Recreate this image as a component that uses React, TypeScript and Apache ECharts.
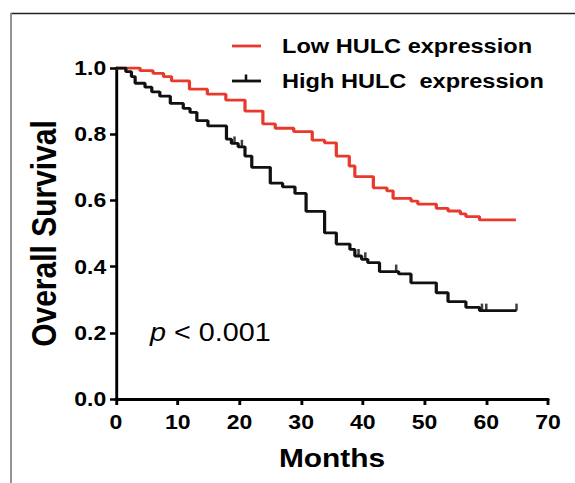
import React, { useEffect, useRef } from "react";
import * as echarts from "echarts";

// Kaplan–Meier steps: [month, survival after the drop]
const lowMonths = [0, 3.9, 6.0, 7.7, 9.0, 11.9, 14.8, 17.8, 20.9, 23.8, 25.8, 28.8, 31.8, 33.8, 35.7, 37.8, 38.7, 41.7, 43.9, 44.9, 47.8, 48.9, 51.9, 53.8, 55.8, 56.7, 58.9, 64.8];
const lowSurvival = [1.0, 0.992, 0.984, 0.974, 0.961, 0.936, 0.921, 0.903, 0.87, 0.831, 0.818, 0.808, 0.782, 0.774, 0.734, 0.704, 0.672, 0.638, 0.629, 0.606, 0.598, 0.589, 0.576, 0.568, 0.559, 0.551, 0.541, 0.541];

const highMonths = [0, 1.6, 2.5, 3.1, 4.7, 5.8, 7.1, 8.8, 10.9, 12.0, 13.1, 14.9, 17.9, 18.7, 19.8, 20.9, 22.0, 25.0, 27.0, 29.0, 30.8, 33.8, 35.7, 37.9, 38.7, 39.8, 40.8, 42.7, 45.8, 47.8, 51.9, 53.8, 56.7, 58.9, 64.9];
const highSurvival = [1.0, 0.989, 0.974, 0.954, 0.942, 0.928, 0.915, 0.893, 0.878, 0.866, 0.841, 0.825, 0.785, 0.772, 0.762, 0.734, 0.7, 0.652, 0.641, 0.621, 0.567, 0.502, 0.468, 0.452, 0.432, 0.422, 0.412, 0.385, 0.378, 0.351, 0.321, 0.294, 0.277, 0.267, 0.267];

const censorMonths = [19.2, 20.4, 39.3, 40.4, 45.4, 59.3, 60.0, 64.9];
const censorSurvival = [0.772, 0.762, 0.432, 0.422, 0.385, 0.267, 0.267, 0.267];

const xTicks = [0, 10, 20, 30, 40, 50, 60, 70];
const yTicks = [0, 0.2, 0.4, 0.6, 0.8, 1.0];

const seriesNames = ["Low HULC expression", "High HULC  expression"];

const K = 1.15; // horizontal stretch of the original figure
const W = 575 / K;
const H = 483;
const FONT = "'Liberation Sans', Arial, Helvetica, sans-serif";
const RED = "#e8392c";
const BLACK = "#111111";

export default function App() {
  const ref = useRef<HTMLDivElement>(null);

  useEffect(() => {
    if (!ref.current) return;
    const chart = echarts.init(ref.current, undefined, { renderer: "svg" });
    const lowData = lowMonths.map((m, i) => [m, lowSurvival[i]]);
    const highData = highMonths.map((m, i) => [m, highSurvival[i]]);
    const censorData = censorMonths.map((m, i) => [m, censorSurvival[i]]);

    const sx = (x: number) => x / K;

    chart.setOption({
      animation: false,
      backgroundColor: "#ffffff",
      grid: { left: sx(116), right: W - sx(548), top: 68, bottom: 84, containLabel: false },
      xAxis: {
        type: "value",
        min: xTicks[0],
        max: xTicks[xTicks.length - 1],
        interval: 10,
        name: "Months",
        nameLocation: "middle",
        nameGap: 46,
        nameTextStyle: { fontFamily: FONT, fontWeight: "bold", fontSize: 26, color: "#000" },
        axisLine: { show: true, onZero: false, lineStyle: { color: "#000", width: 2.8 } },
        axisTick: { show: true, length: 6, lineStyle: { color: "#000", width: 2.5 } },
        axisLabel: { margin: 13, fontFamily: FONT, fontWeight: "bold", fontSize: 20, color: "#000" },
        splitLine: { show: false },
      },
      yAxis: {
        type: "value",
        min: yTicks[0],
        max: yTicks[yTicks.length - 1],
        interval: 0.2,
        name: "Overall Survival",
        nameLocation: "middle",
        nameGap: 47,
        nameTextStyle: { fontFamily: FONT, fontWeight: "bold", fontSize: 30, color: "#000" },
        axisLine: { show: true, onZero: false, lineStyle: { color: "#000", width: 2.5 } },
        axisTick: { show: true, length: 5.2, lineStyle: { color: "#000", width: 2.5 } },
        axisLabel: {
          margin: 8.5,
          fontFamily: FONT,
          fontWeight: "bold",
          fontSize: 20,
          color: "#000",
          formatter: (v: number) => v.toFixed(1),
        },
        splitLine: { show: false },
      },
      series: [
        {
          name: seriesNames[0],
          type: "line",
          step: "end",
          data: lowData,
          showSymbol: false,
          symbol: "none",
          lineStyle: { color: RED, width: 2.8 },
          z: 3,
        },
        {
          name: seriesNames[1],
          type: "line",
          step: "end",
          data: highData,
          showSymbol: false,
          symbol: "none",
          lineStyle: { color: BLACK, width: 2.8 },
          z: 4,
        },
        {
          name: "censored",
          type: "scatter",
          data: censorData,
          symbol: "rect",
          symbolSize: [2.2, 7],
          symbolOffset: [0, -3.5],
          itemStyle: { color: BLACK },
          z: 5,
        },
      ],
      graphic: [
        // frame of the original figure
        { type: "line", shape: { x1: sx(11), y1: 13.5, x2: W + 5, y2: 13.5 }, style: { stroke: "#222", lineWidth: 1.6 } },
        { type: "line", shape: { x1: sx(11), y1: 13, x2: sx(11), y2: H + 5 }, style: { stroke: "#8a8a8a", lineWidth: 1.6 } },
        // legend
        { type: "line", shape: { x1: sx(232), y1: 46, x2: sx(261), y2: 46 }, style: { stroke: RED, lineWidth: 2.8 } },
        {
          type: "text",
          x: sx(282),
          y: 46,
          style: { text: seriesNames[0], fontFamily: FONT, fontWeight: "bold", fontSize: 20.5, fill: "#000", verticalAlign: "middle", align: "left" },
        },
        { type: "line", shape: { x1: sx(232), y1: 81, x2: sx(261), y2: 81 }, style: { stroke: BLACK, lineWidth: 2.8 } },
        { type: "line", shape: { x1: sx(246), y1: 74.5, x2: sx(246), y2: 81 }, style: { stroke: BLACK, lineWidth: 2.2 } },
        {
          type: "text",
          x: sx(282),
          y: 81,
          style: { text: seriesNames[1], fontFamily: FONT, fontWeight: "bold", fontSize: 20.5, fill: "#000", verticalAlign: "middle", align: "left" },
        },
        // p value
        {
          type: "text",
          x: sx(150),
          y: 333,
          style: {
            text: "{i|p} < 0.001",
            fontFamily: FONT,
            fontSize: 25,
            fill: "#000",
            verticalAlign: "middle",
            align: "left",
            rich: { i: { fontStyle: "italic", fontFamily: FONT, fontSize: 25, fill: "#000" } },
          },
        },
      ],
    });
    return () => chart.dispose();
  }, []);

  return (
    <div
      ref={ref}
      style={{
        position: "absolute",
        left: 0,
        top: 0,
        width: W,
        height: H,
        transform: `scaleX(${K})`,
        transformOrigin: "0 0",
        background: "#fff",
      }}
    />
  );
}
